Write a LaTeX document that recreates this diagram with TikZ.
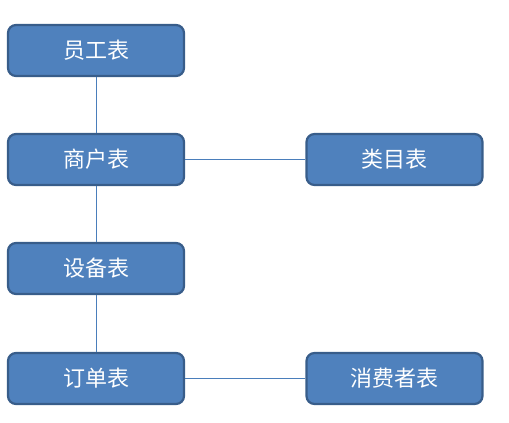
\documentclass[tikz,border=0pt]{standalone}
\usepackage{fontspec}
\newfontfamily\cjk{Noto Sans CJK SC}
\usetikzlibrary{positioning}
\definecolor{tblfill}{RGB}{79,129,189}
\definecolor{tbledge}{RGB}{56,93,138}
\definecolor{linkblue}{RGB}{74,126,187}
\tikzset{
  tblbox/.style={draw=tbledge, fill=tblfill, line width=2.2pt, rounded corners=8pt,
    minimum width=176pt, minimum height=51pt, inner sep=0pt,
    text=white, font=\cjk\fontsize{22pt}{26pt}\selectfont},
  link/.style={draw=linkblue, line width=1pt}
}
\begin{document}
\begin{tikzpicture}[x=1pt,y=-1pt]
  \useasboundingbox (0,0) rectangle (509,423);

  % left column
  \node[tblbox] (yuangong) at (96,50.5) {员工表};
  \node[tblbox] (shanghu) at (96,159.5) {商户表};
  \node[tblbox] (shebei) at (96,268.5) {设备表};
  \node[tblbox] (dingdan) at (96,378.5) {订单表};

  % right column
  \node[tblbox] (leimu) at (394.5,159.5) {类目表};
  \node[tblbox] (xiaofei) at (394.5,378.5) {消费者表};

  \draw[link] (yuangong) -- (shanghu);
  \draw[link] (shanghu) -- (shebei);
  \draw[link] (shebei) -- (dingdan);
  \draw[link] (shanghu) -- (leimu);
  \draw[link] (dingdan) -- (xiaofei);

\end{tikzpicture}
\end{document}
